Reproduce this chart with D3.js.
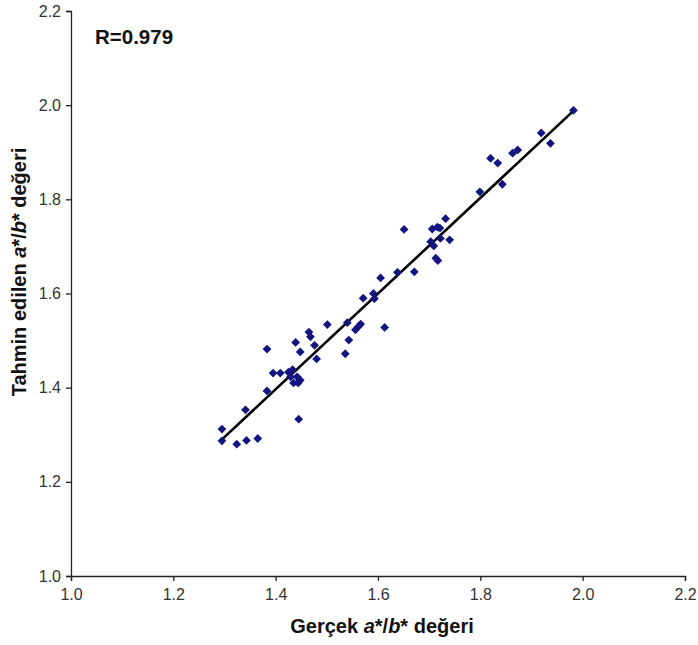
<!DOCTYPE html>
<html><head><meta charset="utf-8">
<script src="https://cdn.jsdelivr.net/npm/d3@7"></script>
<style>body{margin:0;background:#fff}svg{display:block}</style>
</head><body>
<svg id="chart" width="698" height="645"></svg>
<script>
const actual = [1.295,1.295,1.324,1.343,1.365,1.341,1.383,1.445,1.395,1.409,1.425,1.433,1.429,1.442,1.435,1.444,1.448,
1.383,1.439,1.448,1.465,1.468,1.476,1.480,1.501,1.540,1.543,1.536,1.566,1.562,1.556,1.613,1.571,1.591,1.593,1.605,1.638,1.671,
1.651,1.706,1.716,1.721,1.732,1.703,1.709,1.722,1.740,1.713,1.717,1.799,1.820,1.834,1.843,1.863,1.873,1.919,1.937,1.982];
const predicted = [1.312,1.287,1.280,1.288,1.292,1.353,1.393,1.333,1.431,1.431,1.433,1.438,1.423,1.423,1.410,1.410,1.416,
1.482,1.496,1.476,1.518,1.508,1.490,1.461,1.534,1.538,1.501,1.472,1.535,1.530,1.523,1.528,1.590,1.600,1.589,1.633,1.645,1.646,
1.736,1.737,1.741,1.739,1.759,1.710,1.701,1.717,1.714,1.675,1.670,1.816,1.887,1.877,1.832,1.898,1.905,1.941,1.919,1.989];
const fitX = [1.292, 1.983];
const fitY = [1.287, 1.989];
const xTicks = [1.0,1.2,1.4,1.6,1.8,2.0,2.2];
const yTicks = [1.0,1.2,1.4,1.6,1.8,2.0,2.2];
const rLabel = "R=0.979";

const svg = d3.select("#chart");
const x = d3.scaleLinear().domain([1.0,2.2]).range([71,685]);
const y = d3.scaleLinear().domain([1.0,2.2]).range([576,11]);
const font = "'Liberation Sans', Arial, sans-serif";

const xAxis = svg.append("g").attr("transform","translate(0,576)")
  .call(d3.axisBottom(x).tickValues(xTicks).tickFormat(d3.format(".1f")).tickSizeOuter(0).tickSize(5).tickPadding(8));
const yAxis = svg.append("g").attr("transform","translate(71,0)")
  .call(d3.axisLeft(y).tickValues(yTicks).tickFormat(d3.format(".1f")).tickSizeOuter(0).tickSize(5).tickPadding(5));
[xAxis,yAxis].forEach(a=>{
  a.select(".domain").attr("stroke","#222").attr("stroke-width",1.3);
  a.selectAll(".tick line").attr("stroke","#222").attr("stroke-width",1.3);
  a.selectAll("text").attr("font-family",font).attr("font-size",16).attr("fill","#333");
});

// regression line
svg.append("line")
  .attr("x1",x(fitX[0])).attr("y1",y(fitY[0]))
  .attr("x2",x(fitX[1])).attr("y2",y(fitY[1]))
  .attr("stroke","#000").attr("stroke-width",2.6);

// points
const pts = actual.map((a,i)=>({a, p: predicted[i]}));
svg.append("g").selectAll("path").data(pts).join("path")
  .attr("transform",d=>`translate(${x(d.a)},${y(d.p)})`)
  .attr("d","M0,-4.4L4.4,0L0,4.4L-4.4,0Z")
  .attr("fill","#141480");

// R label
svg.append("text").attr("x",95).attr("y",44).attr("font-family",font)
  .attr("font-weight","bold").attr("font-size",20.5).attr("fill","#111").text(rLabel);

// x title
const xt = svg.append("text").attr("x",382).attr("y",633).attr("text-anchor","middle")
  .attr("font-family",font).attr("font-weight","bold").attr("font-size",20).attr("fill","#111");
xt.append("tspan").text("Gerçek ");
xt.append("tspan").attr("font-style","italic").text("a");
xt.append("tspan").text("*/");
xt.append("tspan").attr("font-style","italic").text("b");
xt.append("tspan").text("* değeri");

// y title
const yt = svg.append("text").attr("transform","translate(26,272) rotate(-90)").attr("text-anchor","middle")
  .attr("font-family",font).attr("font-weight","bold").attr("font-size",20).attr("fill","#111");
yt.append("tspan").text("Tahmin edilen ");
yt.append("tspan").attr("font-style","italic").text("a");
yt.append("tspan").text("*/");
yt.append("tspan").attr("font-style","italic").text("b");
yt.append("tspan").text("* değeri");
</script>
</body></html>
